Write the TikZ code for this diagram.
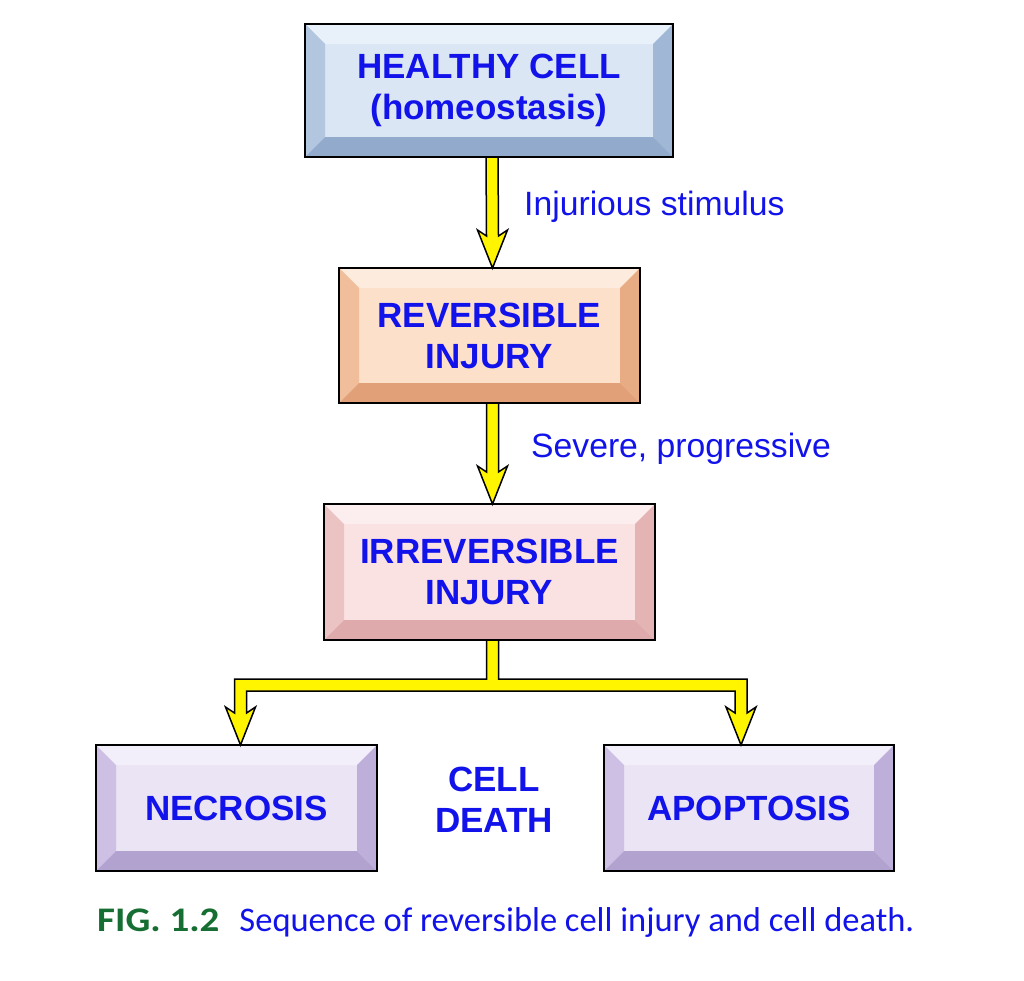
\documentclass[tikz,border=0pt]{standalone}
\usepackage{fontspec}
\setmainfont{Liberation Sans}
\newfontfamily\capfont{Carlito}
\usetikzlibrary{calc}
\definecolor{txtblue}{RGB}{18,18,235}
\definecolor{figgreen}{RGB}{22,110,50}
\definecolor{arrowyellow}{RGB}{255,245,0}
% healthy
\definecolor{hcface}{RGB}{218,230,244}
\definecolor{hctop}{RGB}{232,240,249}
\definecolor{hcleft}{RGB}{178,198,224}
\definecolor{hcright}{RGB}{160,184,214}
\definecolor{hcbot}{RGB}{146,170,204}
% reversible
\definecolor{rvface}{RGB}{252,224,202}
\definecolor{rvtop}{RGB}{253,236,222}
\definecolor{rvleft}{RGB}{240,190,155}
\definecolor{rvright}{RGB}{232,172,132}
\definecolor{rvbot}{RGB}{225,160,120}
% irreversible
\definecolor{irface}{RGB}{250,226,226}
\definecolor{irtop}{RGB}{252,238,238}
\definecolor{irleft}{RGB}{235,195,195}
\definecolor{irright}{RGB}{228,180,180}
\definecolor{irbot}{RGB}{222,170,172}
% death
\definecolor{ncface}{RGB}{234,228,244}
\definecolor{nctop}{RGB}{243,239,250}
\definecolor{ncleft}{RGB}{205,192,228}
\definecolor{ncright}{RGB}{190,175,218}
\definecolor{ncbot}{RGB}{178,162,208}
\def\bv{20}
\tikzset{
  boxface/.style={rectangle, inner sep=0pt, outer sep=0pt, align=center,
    text=txtblue, font=\fontsize{35}{41}\selectfont\bfseries},
  boxborder/.style={draw=black, line width=2pt},
  arrowstyle/.style={fill=arrowyellow, draw=black, line width=1.5pt, line join=miter},
  lbl/.style={text=txtblue, font=\fontsize{33.7}{40}\selectfont, inner sep=0pt, anchor=west},
  boxtext/.style={text=txtblue, font=\fontsize{35}{41}\selectfont\bfseries, align=center, inner sep=0pt}
}
\newcommand\bevelbox[7]{%
  \node[boxface, fill=#6face, minimum width=#4pt, minimum height=#5pt] (#1) at (#2,#3) {#7};
  \fill[#6top] (#1.north west) -- (#1.north east) -- ($(#1.north east)+(-\bv,\bv)$) -- ($(#1.north west)+(\bv,\bv)$) -- cycle;
  \fill[#6left] (#1.north west) -- ($(#1.north west)+(\bv,\bv)$) -- ($(#1.south west)+(\bv,-\bv)$) -- (#1.south west) -- cycle;
  \fill[#6right] (#1.north east) -- ($(#1.north east)+(-\bv,\bv)$) -- ($(#1.south east)+(-\bv,-\bv)$) -- (#1.south east) -- cycle;
  \fill[#6bot] (#1.south west) -- ($(#1.south west)+(\bv,-\bv)$) -- ($(#1.south east)+(-\bv,-\bv)$) -- (#1.south east) -- cycle;
  \draw[boxborder] (#1.north west) rectangle (#1.south east);
}
\newcommand\yarrow[2]{%
  \draw[arrowstyle] ($(#1.south)+(-3,0)$) -- ($(#2.north)+(-3,-32)$) -- ($(#2.north)+(-12,-38)$) -- ($(#2.north)+(3,0)$)
    -- ($(#2.north)+(18,-38)$) -- ($(#2.north)+(9,-32)$) -- ($(#1.south)+(9,0)$) -- cycle;}
\begin{document}
\begin{tikzpicture}[x=1pt, y=-1pt]
\fill[white] (0,0) rectangle (1024,980);
\useasboundingbox (0,0) rectangle (1024,980);

\bevelbox{hc}{489}{90.5}{368}{133}{hc}{HEALTHY CELL\\(homeostasis)}
\bevelbox{rv}{489.5}{335.5}{301}{135}{rv}{REVERSIBLE\\INJURY}
\bevelbox{ir}{489.5}{572}{331}{136}{ir}{IRREVERSIBLE\\INJURY}
\bevelbox{nec}{236.5}{808}{281}{126}{nc}{NECROSIS}
\bevelbox{apo}{749}{808}{290}{126}{nc}{APOPTOSIS}

\yarrow{hc}{rv}
\yarrow{rv}{ir}

\coordinate (j) at ($(ir.south)+(3,45)$);
\coordinate (lt) at ($(nec.north)+(4,0)$);
\coordinate (rt) at ($(apo.north)+(-8,0)$);
\draw[arrowstyle] ($(j|-ir.south)+(-6,0)$) -- ($(j)+(-6,-6)$) -- ($(lt|-j)+(-6,-6)$) -- ($(lt)+(-6,-32)$)
  -- ($(lt)+(-15,-38)$) -- (lt) -- ($(lt)+(15,-38)$) -- ($(lt)+(6,-32)$) -- ($(lt|-j)+(6,6)$)
  -- ($(rt|-j)+(-6,6)$) -- ($(rt)+(-6,-32)$) -- ($(rt)+(-15,-38)$) -- (rt) -- ($(rt)+(15,-38)$)
  -- ($(rt)+(6,-32)$) -- ($(rt|-j)+(6,-6)$) -- ($(j)+(6,-6)$) -- ($(j|-ir.south)+(6,0)$) -- cycle;

\node[lbl] (l1) at (524,207) {Injurious stimulus};
\node[lbl] (l2) at (531,449) {Severe, progressive};
\node[boxtext] (cd) at (494,800) {CELL\\DEATH};

\node[anchor=west, inner sep=0pt, font=\capfont\fontsize{34.5}{40}\selectfont] (cap) at (97,922)
  {{\color{figgreen}\bfseries\scalebox{1.13}[1]{FIG. 1.2}}\hspace{20pt}{\color{txtblue}Sequence of reversible cell injury and cell death.}};
\end{tikzpicture}
\end{document}
